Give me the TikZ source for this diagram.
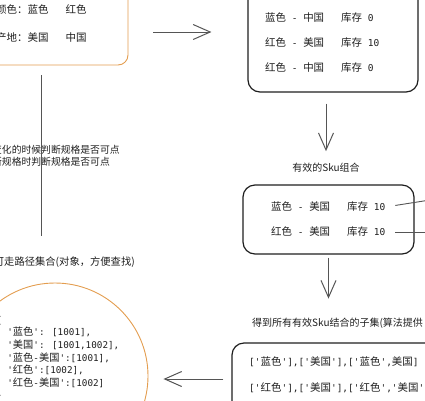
\documentclass[tikz,border=0pt]{standalone}
\usepackage{fontspec}
\setmainfont{Noto Sans CJK SC}
\newfontfamily\cjkcode[Scale=1.1]{Noto Sans CJK SC}
\newfontfamily\codefont{DejaVu Sans Mono}
\definecolor{sketchorange}{HTML}{E39D4F}
\definecolor{sketchgray}{HTML}{555555}
\definecolor{sketchink}{HTML}{1E1E1E}
\usetikzlibrary{arrows.meta}
\newcommand{\zh}[1]{{\cjkcode #1}}
\newcommand{\sq}{\textquotesingle}

\begin{document}
\begin{tikzpicture}[
  x=1pt, y=-1pt,
  font=\fontsize{10}{12}\selectfont,
  text=sketchink,
  orangebox/.style={draw=sketchorange, line width=0.9pt, rounded corners=10pt, inner sep=0pt},
  skubox/.style={draw=sketchink, line width=1.2pt, rounded corners=12pt, inner sep=0pt},
  row/.style={anchor=west, inner sep=0pt, font=\codefont\fontsize{9.5}{12}\selectfont},
  lbl/.style={inner sep=0pt, font=\fontsize{10}{12}\selectfont},
  arr/.style={-{Straight Barb[length=17pt, width=15pt]}, line width=1pt, color=sketchgray},
  link/.style={line width=0.9pt, color=sketchgray},
]
  \useasboundingbox (0,0) rectangle (425,400);
  \clip (0,0) rectangle (425,400);

  % boxes
  \node[orangebox, minimum width=208pt, minimum height=105pt] (attrbox) at (24,12.5) {};
  \node[skubox, minimum width=170pt, minimum height=132pt] (allsku) at (333,26) {};
  \node[skubox, minimum width=171pt, minimum height=69pt] (validbox) at (328.5,219.5) {};
  \node[skubox, minimum width=288pt, minimum height=97pt] (subsetbox) at (376,391.5) {};
  \node[circle, draw=sketchorange, line width=0.9pt, minimum size=186pt, inner sep=0pt] (pathmap) at (55,376) {};

  % texts
  \node[lbl, anchor=west, font=\fontsize{10.5}{12}\selectfont] (color) at (-4,10) {颜色：蓝色\hspace{17pt}红色};
  \node[lbl, anchor=west, font=\fontsize{10.5}{12}\selectfont] (origin) at (-4,38) {产地：美国\hspace{17pt}中国};

  \node[row] (arow1) at (265,18) {\zh{蓝色} - \zh{中国}\hspace{17pt}\zh{库存} 0};
  \node[row] (arow2) at (265,43) {\zh{红色} - \zh{美国}\hspace{17pt}\zh{库存} 10};
  \node[row] (arow3) at (265,68) {\zh{红色} - \zh{中国}\hspace{17pt}\zh{库存} 0};

  \node[lbl] (validlbl) at (326,168) {有效的Sku组合};
  \node[row] (vrow1) at (271,207) {\zh{蓝色} - \zh{美国}\hspace{17pt}\zh{库存} 10};
  \node[row] (vrow2) at (271,232) {\zh{红色} - \zh{美国}\hspace{17pt}\zh{库存} 10};

  \node[lbl, anchor=west] (subsetlbl) at (252,323) {得到所有有效Sku结合的子集(算法提供};
  \node[row] (srow1) at (249,362) {[\sq\zh{蓝色}\sq],[\sq\zh{美国}\sq],[\sq\zh{蓝色}\sq,\zh{美国}]};
  \node[row] (srow2) at (249,388) {[\sq\zh{红色}\sq],[\sq\zh{美国}\sq],[\sq\zh{红色}\sq,\sq\zh{美国}\sq]};

  \node[lbl, anchor=west, align=left, font=\fontsize{9.8}{12}\selectfont] (note) at (-8,155.5) {变化的时候判断规格是否可点\\断规格时判断规格是否可点};
  \node[lbl, anchor=east, font=\fontsize{10.3}{12}\selectfont] (pathlbl) at (135,262) {可走路径集合(对象，方便查找)};

  \node[anchor=north west, align=left, inner sep=0pt, font=\codefont\fontsize{9.3}{12.6}\selectfont] (pathcode) at (-4,316) {\{\\
\ \ \sq\zh{蓝色}\sq: [1001],\\
\ \ \sq\zh{美国}\sq: [1001,1002],\\
\ \ \sq\zh{蓝色}-\zh{美国}\sq:[1001],\\
\ \ \sq\zh{红色}\sq:[1002],\\
\ \ \sq\zh{红色}-\zh{美国}\sq:[1002]\\
\}};

  % connectors
  \coordinate (out1) at (430,200);
  \coordinate (out2) at (430,232);
  \draw[arr, shorten <=25pt, shorten >=36pt] (attrbox.east |- 0,32) -- (allsku.west |- 0,32);
  \draw[arr, shorten <=11pt, shorten >=12pt] (allsku.south -| validlbl.north) -- (validlbl.north);
  \draw[arr, shorten <=3pt, shorten >=19pt] (validbox.south) -- (validbox.south |- subsetlbl.north);
  \draw[arr, shorten <=8pt, shorten >=15pt] (subsetbox.west |- 0,379) -- (pathmap.east |- 0,379);
  \draw[link, shorten <=10pt, shorten >=20pt] (attrbox.south -| 41,0) -- (pathlbl.north -| 41,0);
  \draw[link, shorten <=10pt] (vrow1.east) -- (out1);
  \draw[link, shorten <=10pt] (vrow2.east) -- (out2);
\end{tikzpicture}
\end{document}
